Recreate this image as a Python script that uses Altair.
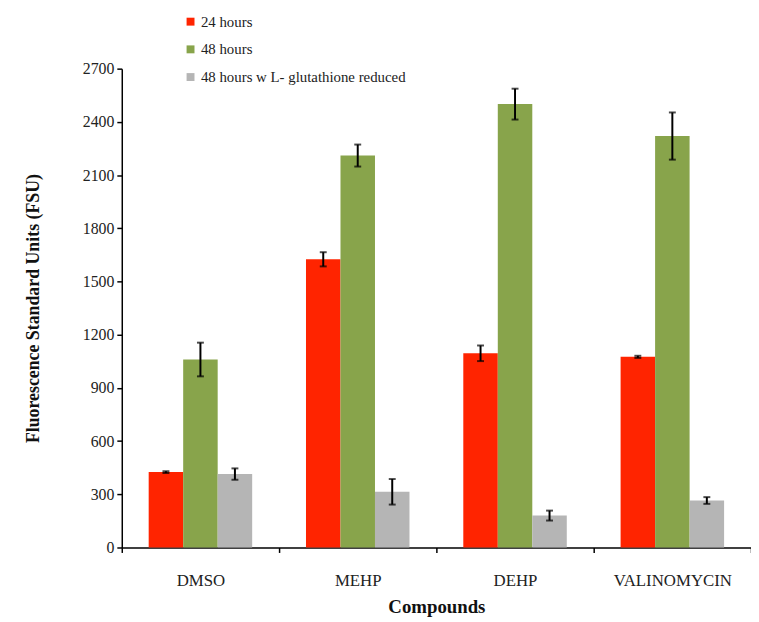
import altair as alt
import pandas as pd

compounds = ["DMSO", "MEHP", "DEHP", "VALINOMYCIN"]
series = ["24 hours", "48 hours", "48 hours w L- glutathione reduced"]
colors = ["#FF2400", "#88A44B", "#B5B5B5"]

h24 = [425, 1625, 1095, 1075]
h24_err = [5, 40, 44, 6]
h48 = [1060, 2210, 2500, 2320]
h48_err = [95, 62, 87, 133]
h48g = [414, 314, 180, 265]
h48g_err = [32, 72, 28, 19]

rows = []
for s, vals, errs in zip(series, [h24, h48, h48g], [h24_err, h48_err, h48g_err]):
    for c, v, e in zip(compounds, vals, errs):
        rows.append({"Compound": c, "Series": s, "Value": v, "lo": v - e, "hi": v + e})
df = pd.DataFrame(rows)

FONT = "Liberation Serif"

x_enc = alt.X(
    "Compound:N",
    sort=compounds,
    scale=alt.Scale(paddingInner=0, paddingOuter=0),
    axis=alt.Axis(
        title="Compounds",
        labelAngle=0,
        tickBand="extent",
        tickSize=5,
        labelPadding=20,
        titlePadding=10,
        labelFont=FONT,
        titleFont=FONT,
        labelFontSize=17,
        titleFontSize=19,
        labelColor="#222222",
        titleColor="#111111",
        titleFontWeight="bold",
    ),
)
xo_enc = alt.XOffset(
    "Series:N", sort=series, scale=alt.Scale(paddingInner=0, paddingOuter=0.78)
)
y_scale = alt.Scale(domain=[0, 2700], nice=False)
y_axis = alt.Axis(
    title="Fluorescence Standard Units (FSU)",
    values=list(range(0, 2701, 300)),
    format="d",
    grid=False,
    tickSize=5,
    labelPadding=3,
    titlePadding=40,
    labelFont=FONT,
    titleFont=FONT,
    labelFontSize=16,
    titleFontSize=18,
    labelColor="#222222",
    titleColor="#111111",
    titleFontWeight="bold",
)

base = alt.Chart(df).encode(x=x_enc, xOffset=xo_enc)

bars = base.mark_bar().encode(
    y=alt.Y("Value:Q", scale=y_scale, axis=y_axis),
    color=alt.Color(
        "Series:N",
        sort=series,
        scale=alt.Scale(domain=series, range=colors),
        legend=alt.Legend(
            title=None,
            orient="none",
            legendX=62,
            legendY=-55,
            symbolType="square",
            symbolSize=64,
            symbolStrokeWidth=0,
            labelFont=FONT,
            labelFontSize=15,
            labelColor="#222222",
            labelLimit=0,
            labelOffset=3,
            rowPadding=12,
            padding=0,
        ),
    ),
)

rules = base.mark_rule(color="black", strokeWidth=2).encode(
    y=alt.Y("lo:Q", scale=y_scale, axis=y_axis), y2="hi:Q"
)
cap_lo = base.mark_tick(color="black", thickness=2, size=7).encode(
    y=alt.Y("lo:Q", scale=y_scale, axis=y_axis)
)
cap_hi = base.mark_tick(color="black", thickness=2, size=7).encode(
    y=alt.Y("hi:Q", scale=y_scale, axis=y_axis)
)

chart = (
    alt.layer(bars, rules, cap_lo, cap_hi)
    .properties(
        width=636,
        height=484,
        autosize=alt.AutoSizeParams(type="none"),
        padding={"left": 115, "top": 58, "right": 0, "bottom": 72},
    )
    .configure_view(stroke=None)
    .configure_axis(
        domainColor="black",
        domainWidth=1.5,
        tickColor="black",
        tickWidth=1.5,
    )
)

chart.save("out.html", embed_options={"renderer": "svg", "actions": False})
